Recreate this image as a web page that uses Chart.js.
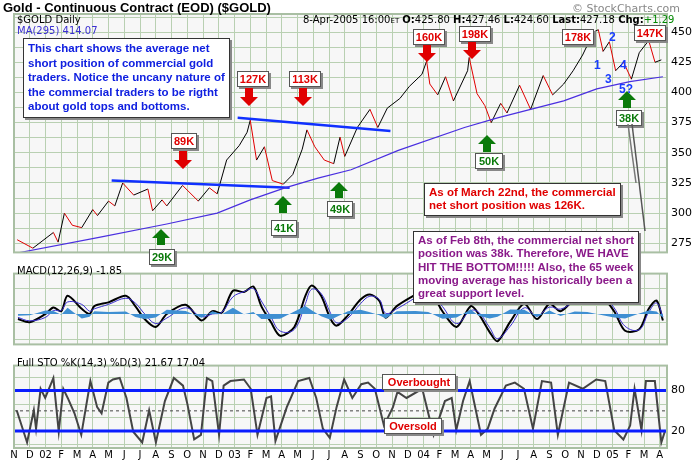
<!DOCTYPE html>
<html><head><meta charset="utf-8">
<script src="https://cdn.jsdelivr.net/npm/chart.js@4"></script>
<style>
body{margin:0;background:#fff;font-family:"DejaVu Sans",sans-serif;}
#wrap{position:relative;width:700px;height:462px;overflow:hidden;background:#fff;}
canvas{position:absolute;left:0;}
.t{position:absolute;white-space:nowrap;font-size:10px;color:#000;}
.box{position:absolute;background:#fff;border:1px solid #555;box-shadow:2px 2px 0 #888;font:bold 11px "Liberation Sans",Arial,sans-serif;text-align:center;line-height:14px;}
.note{position:absolute;background:#fff;border:1px solid #333;box-shadow:2px 2px 0 #888;font:bold 11.5px "Liberation Sans",Arial,sans-serif;line-height:13.3px;padding:2px 4px;white-space:nowrap;}
svg{position:absolute;overflow:visible;}
</style></head><body>
<div id="wrap">
<canvas id="c1" width="700" height="263" style="top:0"></canvas>
<canvas id="c2" width="700" height="92" style="top:263px"></canvas>
<canvas id="c3" width="700" height="107" style="top:355px"></canvas>
</div>
<script>
// ---- data (time in months since 1-Nov-2001) ----
const monthLabels=['N','D','02','F','M','A','M','J','J','A','S','O','N','D','03','F','M','A','M','J','J','A','S','O','N','D','04','F','M','A','M','J','J','A','S','O','N','D','05','F','M','A'];
const priceT=[0.2,1.2,2.5,2.8,3.2,3.7,4.3,5.0,5.3,6.0,6.4,6.9,7.6,8.5,8.8,9.4,9.7,10.7,11.7,12.4,12.9,13.5,14.3,14.8,15.0,15.4,15.9,16.4,17.1,17.7,18.3,18.6,19.1,19.7,20.3,20.7,21.0,21.8,22.6,23.1,23.7,24.5,25.1,25.9,26.2,26.4,26.9,27.4,27.9,28.8,28.9,29.4,29.9,30.3,30.9,31.3,32.1,32.8,33.6,34.2,34.9,35.5,36.1,36.8,37.1,37.4,37.8,38.2,38.7,39.2,39.7,40.3,40.7,41.1];
const priceV=[278,271,284,276,300,290,288,303,298,310,306,325,315,320,302,311,306,323,310,321,316,344,356,367,377,344,355,327,324,332,353,369,355,344,341,363,347,371,386,371,387,395,405,415,426,407,398,413,393,418,429,399,389,375,391,383,406,386,414,398,407,418,431,450,452,434,442,418,425,411,433,443,425,427];
const maT=[0.2,5.4,9.7,12.9,15.0,17.2,19.3,21.4,24.4,28.6,30.7,32.8,34.9,37.0,39.1,41.2];
const maV=[267,280,291,300,311,321,329,336,352,371,379,386,393,403,409,413];
const trend1T=[6.2,17.5], trend1V=[327,321];
const trend2T=[14.2,23.9], trend2V=[379,368];
const macdT=[0.25,1.0,2.0,2.5,3.0,3.4,4.3,4.8,5.1,6.0,7.1,7.7,8.3,9.0,9.7,10.9,11.9,12.6,13.2,13.9,14.6,15.2,15.7,16.3,16.9,17.8,18.5,18.9,19.5,20.1,20.5,21.2,22.0,22.6,23.2,23.6,24.3,25.5,26.3,27.2,28.1,29.0,29.5,30.2,30.7,31.5,32.4,33.2,34.0,34.7,35.6,36.4,37.3,38.1,38.8,39.7,40.3,40.8,41.2];
const macdV=[-1.5,-2.4,0,1.9,0.8,5.3,1.5,0,2.3,3.4,5.3,2.3,-1.5,-3.8,0,2.7,-1.9,0.8,0.4,6.8,6.4,8.0,2.3,-2.3,-6.4,-3.8,5.3,8.3,5.3,-1.5,-3.4,-0.4,4.2,5.7,3.8,-1.1,2.3,5.7,7.6,0.8,-3.8,2.3,0,-5.3,-8.0,-2.3,3.0,-1.5,3.0,0.8,4.5,6.4,5.3,0.8,-4.9,-4.5,1.5,3.9,-1.9];
const signalV=[-1,-2,-1,1,1,3.5,2.8,0.8,1.5,2.8,4.6,3.2,0,-2.8,-1.2,1.8,-0.8,0,0.5,5,6.5,7.4,3.8,-0.8,-5,-4.5,3,7.2,6,0.2,-2.6,-1.2,3,5.2,4.2,0.2,1.5,4.8,7,2.2,-2.8,1,0.5,-4,-7.2,-3.6,1.8,-0.6,2,1.4,3.8,5.8,5.6,1.8,-3.6,-4.6,0.5,3.2,-0.8];
const stoT=[0.17,0.83,1.26,1.40,1.69,1.98,2.50,2.84,3.13,3.41,3.84,4.27,4.85,5.28,5.56,5.99,6.28,6.71,7.14,7.57,8.14,8.58,9.01,9.58,10.15,10.73,11.01,11.44,11.87,12.25,12.59,13.02,13.31,13.74,14.60,15.03,15.46,16.03,16.32,16.60,17.32,18.04,18.75,19.19,19.61,20.05,20.48,20.96,21.48,22.05,22.48,22.91,23.49,24.06,24.35,24.92,25.92,26.64,27.36,27.79,28.08,28.51,28.93,29.65,30.08,30.51,31.23,31.80,32.38,32.95,33.52,34.10,34.53,35.24,36.11,36.97,37.54,38.11,38.69,39.12,39.40,39.84,40.12,40.69,41.1,41.35];
const stoV=[50.9,3.2,50.9,23.6,82.7,69.1,98.6,19.1,82.7,69.1,46.4,14.5,94.1,55.5,46.4,91.8,96.4,98.6,69.1,19.1,3.2,50.9,3.2,64.5,98.6,87.3,60,7.7,14.5,98.6,94.1,14.5,87.3,94.1,96.4,82.7,14.5,69.1,71.4,5.5,55.5,94.1,98.6,69.1,23.6,10,55.5,96.4,69.1,89.5,91.8,82.7,28.2,55.5,78.2,69.1,82.7,14.5,64.5,69.1,21.4,64.5,94.1,14.5,23.6,53.2,87.3,91.8,82.7,23.6,94.1,91.8,14.5,91.8,82.7,96.4,94.1,21.4,7.7,28.2,82.7,21.4,94.1,94.1,3.2,21.4];
const priceTicks=[275,300,325,350,375,400,425,450];
const macdTicks=[-5,0,5];
const stoTicks=[20,50,80];

// ---- helpers ----
const XMAX=41.46;
const zip=(t,v)=>t.slice(0,Math.min(t.length,v.length)).map((x,i)=>({x,y:v[i]}));
const GRID='#b9d0b2';
const bgPlugin={id:'bg',beforeDraw(c){const a=c.chartArea,g=c.ctx;g.save();g.fillStyle='#f7f7f7';g.fillRect(a.left,a.top,a.width,a.height);g.restore();},
 afterDraw(c){const a=c.chartArea,g=c.ctx;g.save();g.strokeStyle='#a9bfa3';g.lineWidth=2;g.strokeRect(a.left,a.top,a.width,a.height);g.restore();}};
function xScale(showLabels){return {type:'linear',min:0,max:XMAX,
  afterBuildTicks:s=>{s.ticks=monthLabels.map((_,i)=>({value:i}));},
  afterFit:s=>{s.height=showLabels?14:0;},
  grid:{color:GRID,drawTicks:false,lineWidth:1},border:{display:false},
  ticks:{display:showLabels,autoSkip:false,maxRotation:0,padding:1,color:'#000',font:{size:10,family:'DejaVu Sans'},callback:v=>monthLabels[v]}};}
function yScale(min,max,gridVals,labelVals){return {position:'right',min,max,
  afterBuildTicks:s=>{s.ticks=gridVals.map(v=>({value:v}));},
  afterFit:s=>{s.width=33;},
  grid:{color:GRID,drawTicks:false},border:{display:false},
  ticks:{padding:4,color:'#000',font:{size:11,family:'DejaVu Sans'},callback:v=>labelVals.includes(v)?String(v):''}};}
const base={responsive:false,animation:false,plugins:{legend:{display:false},tooltip:{enabled:false}},
  layout:{padding:{left:14,right:0,top:0,bottom:0}}};
const pt={pointRadius:0};

// ---- price ----
const pg=[];for(let v=275;v<=462.5;v+=12.5)pg.push(v);
new Chart(document.getElementById('c1'),{type:'line',plugins:[bgPlugin],
 data:{datasets:[
  {data:zip(maT,maV),borderColor:'#4a2fe0',borderWidth:1.2,...pt},
  {data:zip(trend1T,trend1V),borderColor:'#1030ff',borderWidth:2.5,...pt},
  {data:zip(trend2T,trend2V),borderColor:'#1030ff',borderWidth:2.5,...pt},
  {data:zip(priceT,priceV),borderWidth:1,...pt,segment:{borderColor:c=>c.p1.parsed.y<c.p0.parsed.y?'#e00000':'#000'}}
 ]},
 options:{...base,layout:{padding:{left:14,top:14}},scales:{x:xScale(false),y:yScale(267.5,465,pg,priceTicks)}}});

// ---- MACD ----
const histV=macdV.map((v,i)=>v-signalV[i]);
new Chart(document.getElementById('c2'),{type:'line',plugins:[bgPlugin],
 data:{datasets:[
  {data:zip(macdT,histV),borderWidth:0,fill:'origin',backgroundColor:'#3f8fd2',...pt},
  {data:zip(macdT,signalV),borderColor:'#3a2fd0',borderWidth:1,tension:0.4,...pt},
  {data:zip(macdT,macdV),borderColor:'#000',borderWidth:2,tension:0.3,...pt}
 ]},
 options:{...base,scales:{x:xScale(false),y:yScale(-8.9,11.8,[-7.5,-5,-2.5,0,2.5,5,7.5,10],macdTicks)}}});

// ---- STO ----
new Chart(document.getElementById('c3'),{type:'line',plugins:[bgPlugin],
 data:{datasets:[
  {data:[{x:0,y:80},{x:XMAX,y:80}],borderColor:'#0a1cff',borderWidth:3,...pt},
  {data:[{x:0,y:20},{x:XMAX,y:20}],borderColor:'#0a1cff',borderWidth:3,...pt},
  {data:[{x:0,y:50},{x:XMAX,y:50}],borderColor:'#444',borderWidth:1,borderDash:[3,3],...pt},
  {data:zip(stoT,stoV),borderColor:'#444',borderWidth:2,...pt}
 ]},
 options:{...base,scales:{x:xScale(true),y:yScale(-5,117,[0,10,20,30,40,50,60,70,80,90,100,110],stoTicks)}}});

// ---- annotations ----
const W=document.getElementById('wrap');
function add(html){W.insertAdjacentHTML('beforeend',html);}
function text(x,y,s,style){add(`<div class="t" style="left:${x}px;top:${y}px;${style||''}">${s}</div>`);}
function box(x,y,w,s,col){add(`<div class="box" style="left:${x}px;top:${y}px;width:${w}px;color:${col}">${s}</div>`);}
function arrow(cx,y0,y1,dir,col){const h=y1-y0;const hw=9,sw=4,hh=9;
 let pts=dir==='down'?`${-sw},0 ${sw},0 ${sw},${h-hh} ${hw},${h-hh} 0,${h} ${-hw},${h-hh} ${-sw},${h-hh}`
  :`0,0 ${hw},${hh} ${sw},${hh} ${sw},${h} ${-sw},${h} ${-sw},${hh} ${-hw},${hh}`;
 add(`<svg style="left:${cx}px;top:${y0}px" width="1" height="1"><polygon points="${pts}" fill="${col}"/></svg>`);}
text(3,0,'Gold - Continuous Contract (EOD) ($GOLD)',"font:bold 13px 'Liberation Sans',Arial,sans-serif;");
text(572,2,'© StockCharts.com','color:#888;font-size:11px;');
text(17,14,'$GOLD Daily');
text(17,25,'MA(295) 414.07','color:#3a2fd0');
text(303,14,'8-Apr-2005 16:00<span style="font-size:7px">ET</span> <b>O:</b>425.80 <b>H:</b>427.46 <b>L:</b>424.60 <b>Last:</b>427.18 <b>Chg:</b><span style="color:#080">+1.29</span>');
text(17,265,'MACD(12,26,9) -1.85');
text(17,357,'Full STO %K(14,3) %D(3) 21.67  17.04');
add(`<div class="note" style="left:23px;top:38px;color:#1020e0;line-height:14.5px;padding:2px 4px 3px 4px">This chart shows the average net<br>short position of commercial gold<br>traders.  Notice the uncany nature of<br>the commercial traders to be rigtht<br>about gold tops and bottoms.</div>`);
const R='#e00000',G='#0a7a0a';
box(237,71,30,'127K',R);arrow(249,88,106,'down',R);
box(289,71,30,'113K',R);arrow(303,88,106,'down',R);
box(171,133,24,'89K',R);arrow(183,151,169,'down',R);
box(413,29,30,'160K',R);arrow(427,45,62,'down',R);
box(459,26,30,'198K',R);arrow(472,42,59,'down',R);
box(562,29,30,'178K',R);
box(634,25,30,'147K',R);
box(149,249,24,'29K',G);arrow(161,229,245,'up',G);
box(271,220,24,'41K',G);arrow(283,196,213,'up',G);
box(327,201,24,'49K',G);arrow(339,182,198,'up',G);
box(475,153,26,'50K',G);arrow(487,135,152,'up',G);
box(616,110,24,'38K',G);arrow(627,91,108,'up',G);
const nb="font:bold 12px 'Liberation Sans',Arial;color:#1a3cff;";
text(594,58,'1',nb);text(609,30,'2',nb);text(605,72,'3',nb);text(620,58,'4',nb);text(619,82,'5?',nb);
add(`<svg style="left:0;top:0" width="1" height="1"><line x1="628" y1="124" x2="636" y2="183" stroke="#777" stroke-width="1.5"/><line x1="632" y1="124" x2="645" y2="231" stroke="#555" stroke-width="1.5"/></svg>`);
add(`<div class="note" style="left:424px;top:183px;color:#e00000;">As of March 22nd, the commercial<br>net short position was 126K.</div>`);
add(`<div class="note" style="left:413px;top:231px;color:#8a1a8a;">As of Feb 8th, the commercial net short<br>position was 38k.  Therefore, WE HAVE<br>HIT THE BOTTOM!!!!!  Also, the 65 week<br>moving average has historically been a<br>great support level.</div>`);
box(382,374,72,'Overbought',R);
box(384,418,56,'Oversold',R);
</script></body></html>
